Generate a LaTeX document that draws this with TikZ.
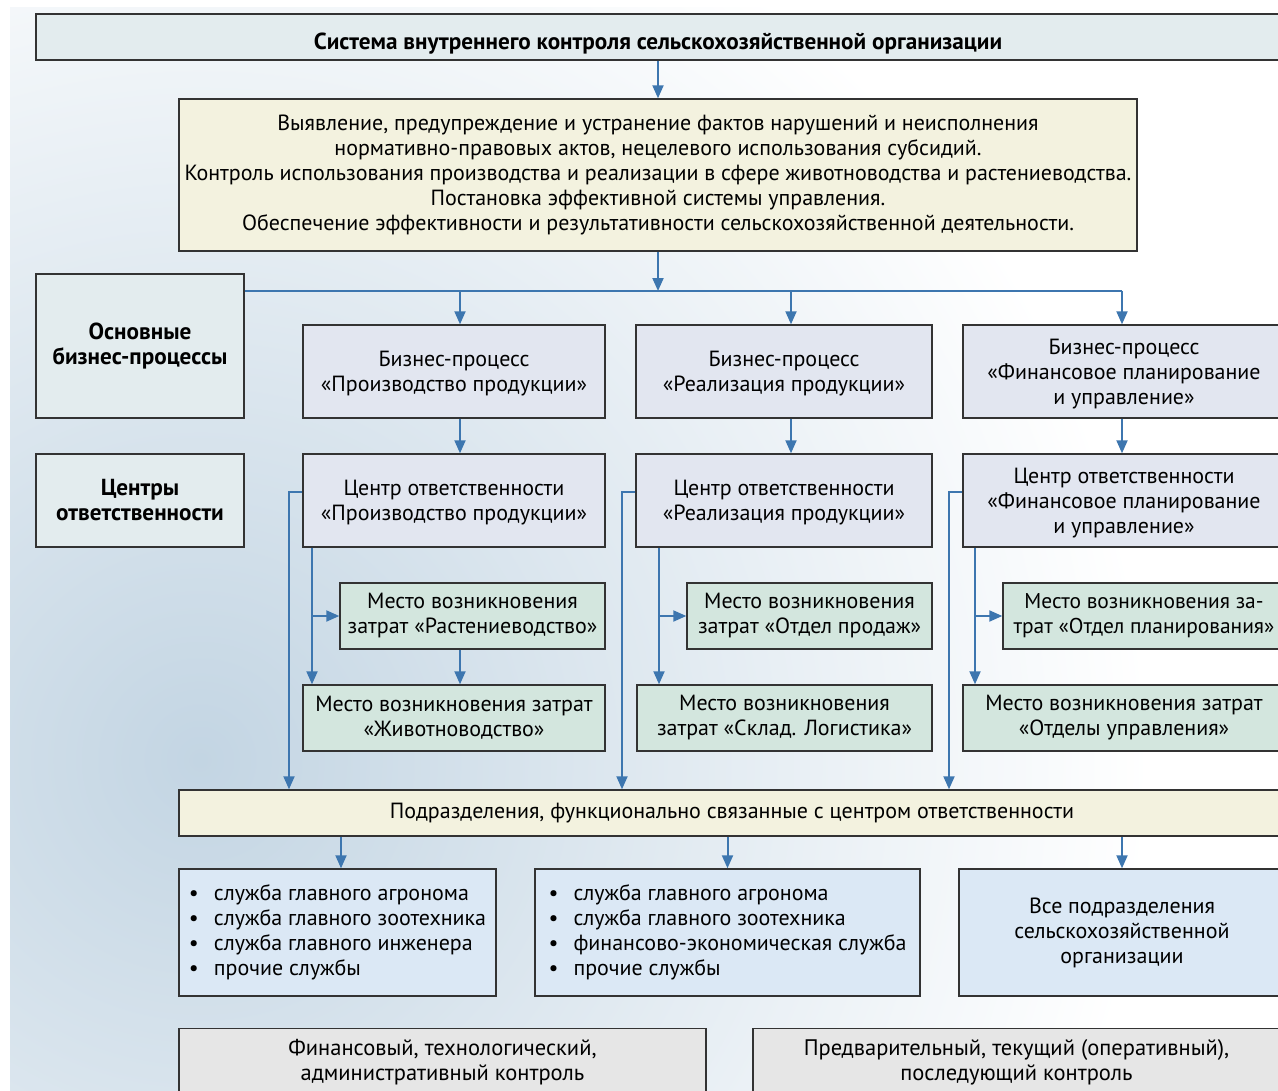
\documentclass[tikz,border=0pt]{standalone}
\usepackage{fontspec}
\setmainfont{PT Sans}
\newfontfamily\widefont{PT Sans}
\usetikzlibrary{arrows.meta}

\newlength\pxu
\setlength\pxu{0.02cm}

\definecolor{boxline}{HTML}{333333}
\definecolor{flowblue}{HTML}{3D76AF}
\definecolor{hdrfill}{HTML}{E3ECEE}
\definecolor{goalfill}{HTML}{F3F2DF}
\definecolor{procfill}{HTML}{E2E6F0}
\definecolor{costfill}{HTML}{D3E6DE}
\definecolor{listfill}{HTML}{DBE8F5}
\definecolor{ctrlfill}{HTML}{E6E6E6}
\definecolor{bgblue}{HTML}{C3D5E3}

\begin{document}
\begin{tikzpicture}[x=1\pxu, y=-1\pxu,
  box/.style={rectangle, draw=boxline, line width=1.4\pxu, inner sep=0pt, align=center,
    font=\fontsize{12.5}{25\pxu}\selectfont},
  hdrbox/.style={box, fill=hdrfill, text height=30\pxu, text depth=5\pxu,
    font=\fontsize{13.2}{25\pxu}\selectfont\bfseries},
  goalbox/.style={box, fill=goalfill},
  sidebox/.style={box, fill=hdrfill, minimum width=208\pxu, font=\fontsize{13.2}{25\pxu}\selectfont\bfseries},
  procbox/.style={box, fill=procfill, minimum height=93\pxu, text depth=-4\pxu},
  costbox/.style={box, fill=costfill, minimum height=66\pxu},
  listbox/.style={box, fill=listfill, minimum height=127\pxu},
  ctrlbox/.style={box, fill=ctrlfill, anchor=north, inner ysep=11\pxu, text depth=40\pxu,
    font=\widefont\fontsize{12.8}{25\pxu}\selectfont},
  flow/.style={-{Triangle[length=0.26cm, width=0.22cm]}, draw=flowblue, line width=2\pxu},
  link/.style={draw=flowblue, line width=2\pxu}
]
  \useasboundingbox (0,0) rectangle (1278,1091);

  % background
  \fill[white] (0,0) rectangle (1278,1091);
  \begin{scope}
    \clip (10,8) rectangle (1278,1091);
    \shade[inner color=bgblue, outer color=white] (200,760) circle (950);
  \end{scope}

  % top
  \node[hdrbox, minimum width=1244\pxu, minimum height=46\pxu] (hdr) at (658,37)
    {Система внутреннего контроля сельскохозяйственной организации};
  \node[goalbox, minimum width=958\pxu, minimum height=152\pxu] (goal) at (658,175)
    {Выявление, предупреждение и устранение фактов нарушений и неисполнения\\
     нормативно-правовых актов, нецелевого использования субсидий.\\
     Контроль использования производства и реализации в сфере животноводства и растениеводства.\\
     Постановка эффективной системы управления.\\
     Обеспечение эффективности и результативности сельскохозяйственной деятельности.};

  % left labels
  \node[sidebox, minimum height=144\pxu] (sbp) at (140,346) {Основные\\бизнес-процессы};
  \node[sidebox, minimum height=93\pxu] (scr) at (140,500.5) {Центры\\ответственности};

  % business processes
  \node[procbox, minimum width=302\pxu] (bp1) at (454,371.5) {Бизнес-процесс\\«Производство продукции»};
  \node[procbox, minimum width=296\pxu] (bp2) at (784,371.5) {Бизнес-процесс\\«Реализация продукции»};
  \node[procbox, minimum width=322\pxu] (bp3) at (1124,371.5) {Бизнес-процесс\\«Финансовое планирование\\и управление»};

  % responsibility centres
  \node[procbox, minimum width=302\pxu] (cr1) at (454,500.5) {Центр ответственности\\«Производство продукции»};
  \node[procbox, minimum width=296\pxu] (cr2) at (784,500.5) {Центр ответственности\\«Реализация продукции»};
  \node[procbox, minimum width=322\pxu] (cr3) at (1124,500.5) {Центр ответственности\\«Финансовое планирование\\и управление»};

  % cost places
  \node[costbox, minimum width=265\pxu] (ma1) at (472.5,616) {Место возникновения\\затрат «Растениеводство»};
  \node[costbox, minimum width=302\pxu] (mb1) at (454,718) {Место возникновения затрат\\«Животноводство»};
  \node[costbox, minimum width=245\pxu] (ma2) at (809.5,616) {Место возникновения\\затрат «Отдел продаж»};
  \node[costbox, minimum width=295\pxu] (mb2) at (784.5,718) {Место возникновения\\затрат «Склад. Логистика»};
  \node[costbox, minimum width=282\pxu, font=\fontsize{12.2}{25\pxu}\selectfont] (ma3) at (1144,616)
    {Место возникновения за-\\трат «Отдел планирования»};
  \node[costbox, minimum width=322\pxu] (mb3) at (1124,718) {Место возникновения затрат\\«Отделы управления»};

  % units
  \node[goalbox, minimum width=1106\pxu, minimum height=46\pxu] (unit) at (732,813)
    {Подразделения, функционально связанные с центром ответственности};
  \node[listbox, minimum width=317\pxu, align=left] (u1) at (337.5,932.5)
    {\makebox[25\pxu][l]{•}служба главного агронома\\
     \makebox[25\pxu][l]{•}служба главного зоотехника\\
     \makebox[25\pxu][l]{•}служба главного инженера\\
     \makebox[25\pxu][l]{•}прочие службы};
  \node[listbox, minimum width=385\pxu, align=left] (u2) at (727.5,932.5)
    {\makebox[25\pxu][l]{•}служба главного агронома\\
     \makebox[25\pxu][l]{•}служба главного зоотехника\\
     \makebox[25\pxu][l]{•}финансово-экономическая служба\\
     \makebox[25\pxu][l]{•}прочие службы};
  \node[listbox, minimum width=326\pxu, font=\widefont\fontsize{12.5}{25\pxu}\selectfont] (u3) at (1122,932.5)
    {Все подразделения\\сельскохозяйственной\\организации};

  % kinds of control
  \node[ctrlbox, minimum width=527\pxu] (k1) at (442.5,1028)
    {Финансовый, технологический,\\административный контроль};
  \node[ctrlbox, minimum width=527\pxu] (k2) at (1016.5,1028)
    {Предварительный, текущий (оперативный),\\последующий контроль};

  % connectors
  \coordinate (bus) at (658,291);
  \coordinate (c1) at (460,291);
  \coordinate (c2) at (791,291);
  \coordinate (c3) at (1122,291);
  \draw[flow] (hdr) -- (goal);
  \draw[flow] (goal) -- (bus);
  \draw[link] (sbp.east |- bus) -- (c3);
  \foreach \i in {1,2,3} {
    \draw[flow] (c\i) -- (c\i |- bp\i.north);
    \draw[flow] (c\i |- bp\i.south) -- (c\i |- cr\i.north);
  }
  \foreach \i/\xl/\xk in {1/289/312, 2/622/659, 3/949/975} {
    \coordinate (l\i) at (\xl,0);
    \coordinate (k\i) at (\xk,0);
    \draw[flow] ([yshift=9\pxu]cr\i.west) -| (l\i |- unit.north);
    \draw[flow] (k\i |- cr\i.south) -- (k\i |- mb\i.north);
    \draw[flow] (k\i |- ma\i.west) -- (ma\i.west);
  }
  \draw[flow] (c1 |- ma1.south) -- (c1 |- mb1.north);
  \draw[flow] (unit.south -| 341,0) -- (341,0 |- u1.north);
  \foreach \i in {2,3}
    \draw[flow] (unit.south -| u\i.north) -- (u\i.north);
\end{tikzpicture}
\end{document}
